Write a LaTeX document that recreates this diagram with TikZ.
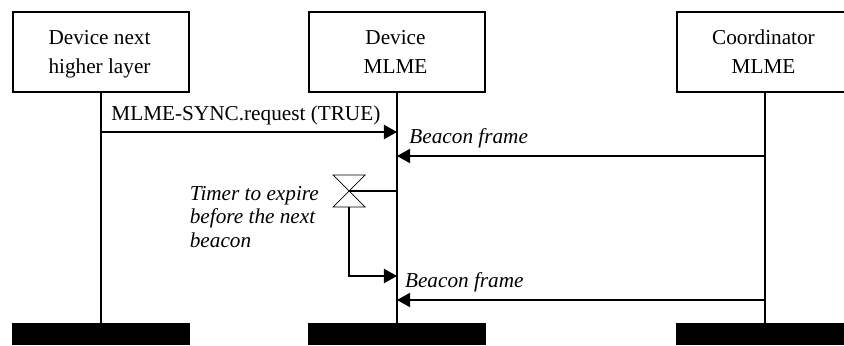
\documentclass[tikz,border=0pt]{standalone}
\usepackage{fontspec}
\setmainfont{Liberation Serif}
\usetikzlibrary{arrows.meta}
\newcommand{\boxline}[1]{\strut\raisebox{-0.025cm}{#1}\kern0.075cm}

\begin{document}
\begin{tikzpicture}[
    layer/.style={shape=rectangle, draw, line width=1pt, minimum width=4.4cm, minimum height=2cm, inner sep=0pt, align=center, font=\fontsize{15.1}{20.6}\selectfont},
    foot/.style={shape=rectangle, fill=black, minimum width=4.45cm, minimum height=0.55cm, inner sep=0pt},
    msg/.style={line width=1pt, -{Triangle[length=0.33cm,width=0.36cm]}},
    lbl/.style={inner sep=0pt, font=\fontsize{15.1}{16.8}\selectfont}]
    \useasboundingbox (0,0) rectangle (21.1,8.625);
    \clip (0,0) rectangle (21.1,8.625);

    \node[layer] (hostbox) at (2.525,7.325) {\boxline{Device next}\\\boxline{higher layer}};
    \node[layer] (devbox) at (9.925,7.325) {\boxline{Device}\\\boxline{MLME}};
    \node[layer] (coordbox) at (19.125,7.325) {\boxline{Coordinator}\\\boxline{MLME}};
    \node[foot] (hostfoot) at (2.525,0.275) {};
    \node[foot] (devfoot) at (9.925,0.275) {};
    \node[foot] (coordfoot) at (19.125,0.275) {};

    \draw[line width=1pt] (hostbox) -- (hostfoot);
    \draw[line width=1pt] (devbox) -- (devfoot);
    \draw[line width=1pt] (coordbox) -- (coordfoot);

    \coordinate (synca) at (2.525,5.325);
    \coordinate (syncb) at (9.925,5.325);
    \coordinate (beaca) at (19.125,4.725);
    \coordinate (beacb) at (9.925,4.725);
    \coordinate (beacc) at (19.125,1.125);
    \coordinate (beacd) at (9.925,1.125);
    \coordinate (timeron) at (9.925,3.85);
    \coordinate (timermid) at (8.72,3.85);
    \coordinate (timerlow) at (8.72,3.45);
    \coordinate (timerend) at (9.925,1.725);

    \draw[msg] (synca) -- (syncb);
    \draw[msg] (beaca) -- (beacb);
    \draw[msg] (beacc) -- (beacd);
    \node[lbl, anchor=base west] (synclbl) at (2.78,5.61) {MLME-SYNC.request (TRUE)};
    \node[lbl, anchor=base west] (beaclbla) at (10.23,5.05) {\itshape Beacon frame};
    \node[lbl, anchor=base west] (beaclblb) at (10.12,1.45) {\itshape Beacon frame};

    % timer
    \draw[line width=0.5pt] (8.325,4.25) -- (9.125,4.25) -- (8.325,3.45) -- (9.125,3.45) -- cycle;
    \draw[line width=1pt] (timeron) -- (timermid);
    \draw[msg] (timerlow) |- (timerend);
    \node[lbl, anchor=north west, align=left] (timerlbl) at (4.74,3.98) {\itshape Timer to expire\\\itshape before the next\\\itshape beacon};
\end{tikzpicture}
\end{document}
